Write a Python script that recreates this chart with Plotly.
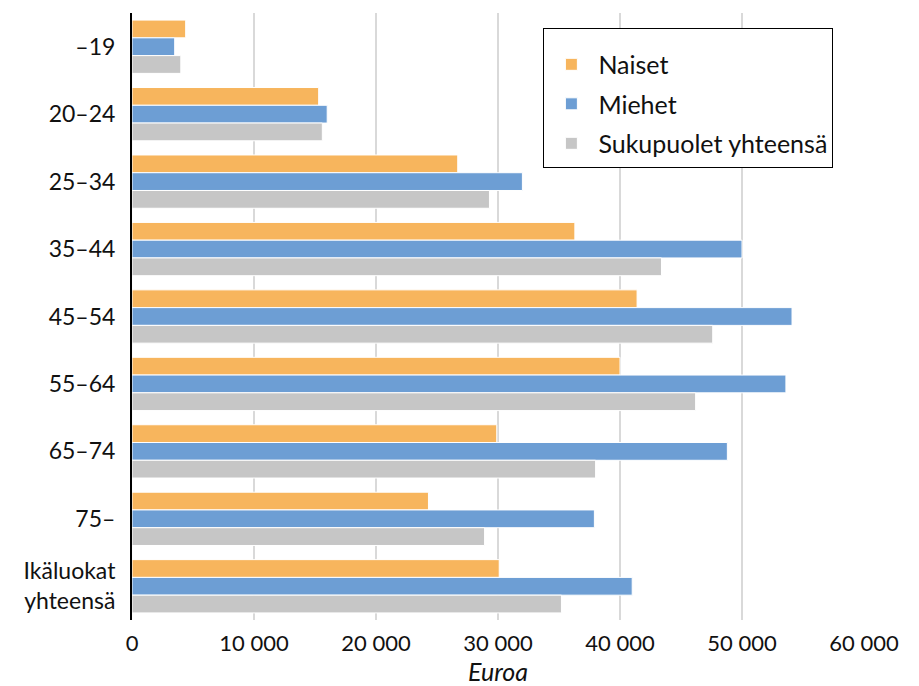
import plotly.graph_objects as go

categories = ["–19", "20–24", "25–34", "35–44", "45–54", "55–64", "65–74", "75–", "Ikäluokat<br>yhteensä"]
naiset = [4400, 15300, 26700, 36300, 41400, 40000, 29900, 24300, 30100]
miehet = [3500, 16000, 32000, 50000, 54100, 53600, 48800, 37900, 41000]
yhteensa = [4000, 15600, 29300, 43400, 47600, 46200, 38000, 28900, 35200]
x_ticks = [0, 10000, 20000, 30000, 40000, 50000, 60000]
x_ticktext = ["0", "10 000", "20 000", "30 000", "40 000", "50 000", "60 000"]

font_family = "Lato, 'Open Sans', sans-serif"

fig = go.Figure()
for name, vals, col in [("Naiset", naiset, "#F7B55D"),
                        ("Miehet", miehet, "#6D9ED4"),
                        ("Sukupuolet yhteensä", yhteensa, "#C6C6C6")]:
    fig.add_trace(go.Bar(y=categories, x=vals, name=name, orientation="h",
                         legendgroup=name,
                         marker=dict(color=col, line=dict(color="white", width=1))))

fig.update_layout(
    width=919, height=686,
    margin=dict(l=124, r=63, t=5, b=74),
    paper_bgcolor="white", plot_bgcolor="white",
    barmode="group", bargap=0.21, bargroupgap=0.0,
    font=dict(family=font_family, size=23, color="#111111"),
    legend=dict(x=0.562, y=0.976, xanchor="left", yanchor="top",
                bgcolor="white", bordercolor="black", borderwidth=1,
                font=dict(size=25), traceorder="grouped",
                tracegroupgap=4, itemwidth=44,
                title=dict(text="&nbsp;", font=dict(size=10))),
    showlegend=True,
)
fig.update_xaxes(range=[0, 60000], tickvals=x_ticks, ticktext=x_ticktext,
                 showgrid=True, gridcolor="#D9D9D9", gridwidth=2,
                 zeroline=False, showline=False, automargin=False,
                 ticklabelstandoff=8,
                 title=dict(text="<i>Euroa</i>", standoff=0, font=dict(size=25)),
                 tickfont=dict(size=22))
fig.update_yaxes(autorange="reversed", showline=True, linecolor="black", linewidth=2,
                 showgrid=False, ticks="", ticklabelstandoff=10, automargin=False,
                 tickfont=dict(size=23))

fig.write_html("out.html")
